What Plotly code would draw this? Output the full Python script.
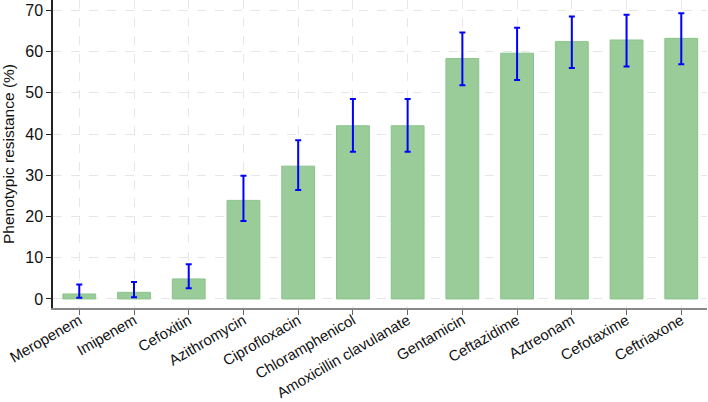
import plotly.graph_objects as go

antibiotics = ["Meropenem", "Imipenem", "Cefoxitin", "Azithromycin", "Ciprofloxacin",
               "Chloramphenicol", "Amoxicillin clavulanate", "Gentamicin", "Ceftazidime",
               "Aztreonam", "Cefotaxime", "Ceftriaxone"]
resistance = [1.2, 1.6, 4.85, 23.9, 32.2, 42.0, 42.0, 58.3, 59.6, 62.4, 62.8, 63.2]
ci_upper = [3.5, 4.1, 8.4, 29.9, 38.5, 48.5, 48.5, 64.6, 65.8, 68.5, 68.9, 69.3]
ci_lower = [0.3, 0.4, 2.6, 18.9, 26.4, 35.7, 35.7, 51.8, 53.1, 56.0, 56.4, 56.9]
y_ticks = [0, 10, 20, 30, 40, 50, 60, 70]

err_plus = [u - v for u, v in zip(ci_upper, resistance)]
err_minus = [v - l for v, l in zip(resistance, ci_lower)]

fig = go.Figure(go.Bar(
    x=antibiotics, y=resistance, width=0.6,
    marker=dict(color="rgb(153,204,153)", line=dict(color="rgb(138,196,138)", width=1)),
    error_y=dict(type="data", array=err_plus, arrayminus=err_minus, symmetric=False,
                 color="#0000ff", thickness=2, width=3),
))

fig.update_layout(
    width=708, height=402,
    margin=dict(l=53, r=1, t=0, b=94, autoexpand=False),
    plot_bgcolor="white", paper_bgcolor="white",
    font=dict(family="Liberation Sans, Arial, sans-serif", size=15, color="#111"),
    showlegend=False,
)
fig.update_xaxes(
    range=[-0.48, 11.47], tickangle=-30, automargin=False,
    showline=True, linecolor="#888", linewidth=2,
    ticks="outside", ticklen=5, tickcolor="#666",
    showgrid=True, gridcolor="#e6e6e6", griddash="dash", gridwidth=1,
    tickfont=dict(size=15), ticklabelstandoff=-9,
)
fig.update_yaxes(
    range=[-2.2, 72.5], tickvals=y_ticks, automargin=False,
    showline=True, linecolor="#222", linewidth=1.5,
    ticks="outside", ticklen=5, tickcolor="#222",
    showgrid=True, gridcolor="#e6e6e6", griddash="dash", gridwidth=1,
    zeroline=False,
    title=dict(text="Phenotypic resistance (%)", font=dict(size=15.5)),
    tickfont=dict(size=16),
)

fig.write_html("out.html", config={"displayModeBar": False},
               post_script="document.body.style.margin='0';")
